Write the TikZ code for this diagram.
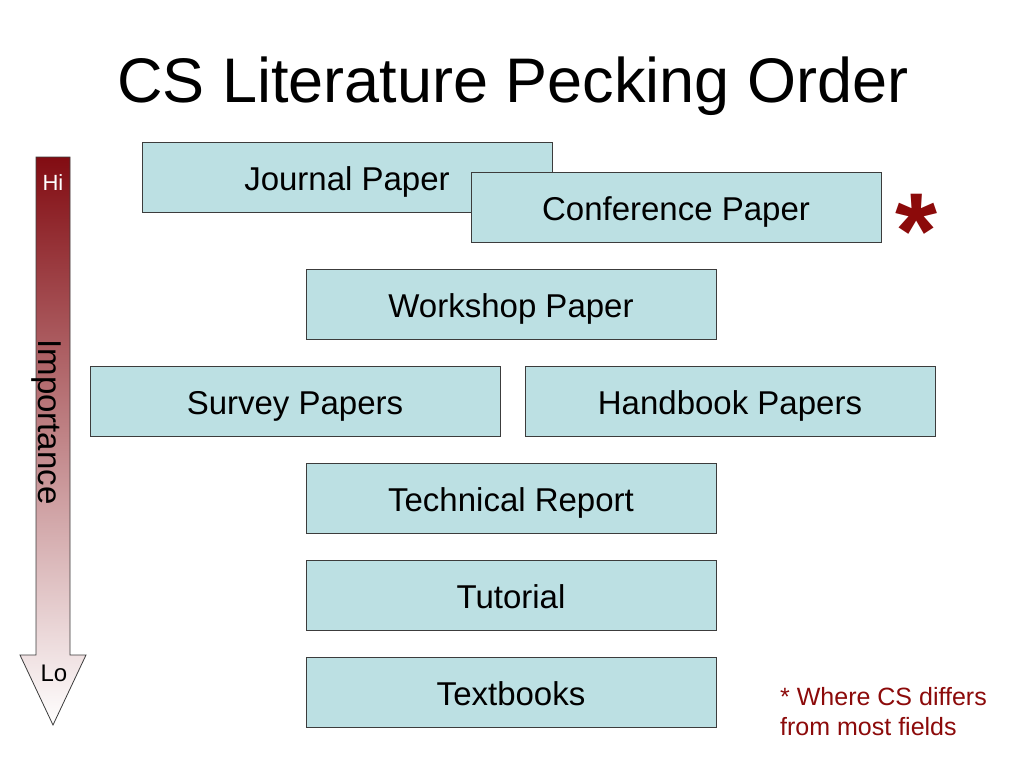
\documentclass[tikz,border=0pt]{standalone}
\usepackage{fontspec}
\setmainfont{Liberation Sans}
\definecolor{boxfill}{RGB}{188,224,227}
\definecolor{boxline}{RGB}{60,60,60}
\definecolor{darkred}{RGB}{130,12,18}
\definecolor{midred}{RGB}{205,170,170}
\definecolor{noteRed}{RGB}{140,10,10}
\begin{document}
\begin{tikzpicture}[x=1pt,y=-1pt,
  paper/.style={draw=boxline,line width=1pt,fill=boxfill,minimum width=410pt,minimum height=70pt,inner sep=0pt,text height=26pt,text depth=0pt,font=\fontsize{33}{38}\selectfont},
  title/.style={font=\fontsize{63}{70}\selectfont},
  note/.style={font=\fontsize{25}{30}\selectfont,text=noteRed,align=left,inner sep=0pt}]
\useasboundingbox (0,0) rectangle (1024,768);
\fill[white] (0,0) rectangle (1024,768);
% title
\node[title] (t) at (513,86) {CS Literature Pecking Order};
% importance arrow
\shade[top color=darkred,middle color=midred,bottom color=white]
  (36,157) -- (70,157) -- (70,655) -- (86,655) -- (53,725) -- (20,655) -- (36,655) -- cycle;
\draw[boxline,line width=0.8pt]
  (36,157) -- (70,157) -- (70,655) -- (86,655) -- (53,725) -- (20,655) -- (36,655) -- cycle;
\node[text=white,font=\fontsize{22}{26}\selectfont] (hi) at (53,183) {Hi};
\node[font=\fontsize{24}{28}\selectfont] (lo) at (54,673) {Lo};
\node[rotate=-90,font=\fontsize{33}{38}\selectfont] (imp) at (46,422) {Importance};
% papers
\node[paper] (journal) at (347,177) {Journal Paper};
\node[paper] (conf) at (676,207) {Conference Paper};
\node[paper] (workshop) at (511,304) {Workshop Paper};
\node[paper] (survey) at (295,401) {Survey Papers};
\node[paper] (handbook) at (730,401) {Handbook Papers};
\node[paper] (tech) at (511,498) {Technical Report};
\node[paper] (tut) at (511,595) {Tutorial};
\node[paper] (text) at (511,692) {Textbooks};
% asterisk
\node[text=noteRed,font=\bfseries\fontsize{108}{118}\selectfont,inner sep=0pt] (star) at (916,231) {*};
% footnote
\node[note,anchor=north west] (fn) at (780,687) {* Where CS differs\\from most fields};
\end{tikzpicture}
\end{document}
